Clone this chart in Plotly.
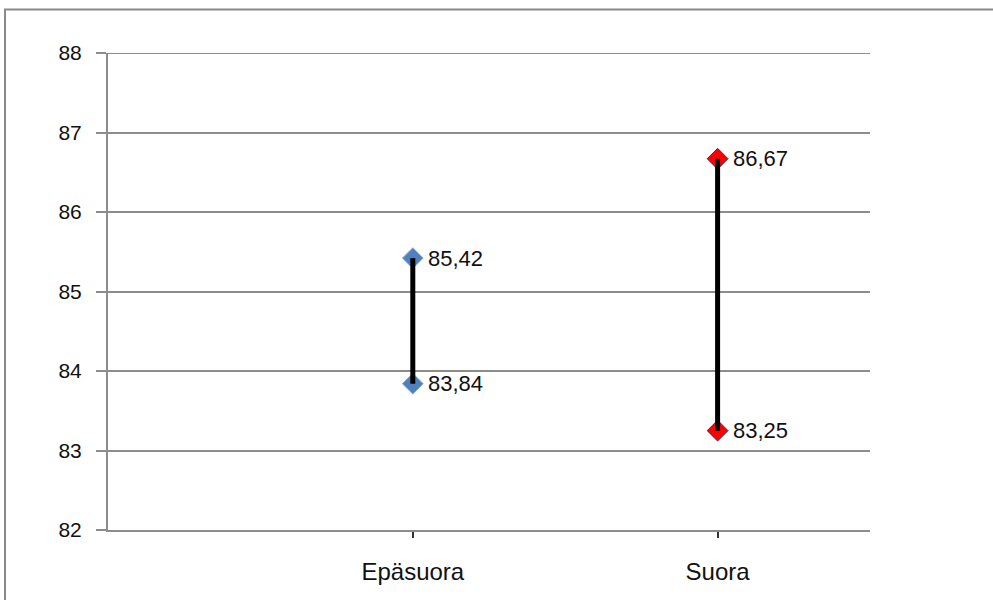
import plotly.graph_objects as go

categories = ["Epäsuora", "Suora"]
low_values = [83.84, 83.25]
high_values = [85.42, 86.67]
marker_colors = ["#4F81BD", "#FF0000"]
marker_edges = ["#8AAEDB", "#2E2E6E"]
y_ticks = [82, 83, 84, 85, 86, 87, 88]

W, H = 993, 600
L, R, T, B = 108, 123, 53, 70
PW, PH = W - L - R, H - T - B

TEXT = "#111111"
GRID = "#8c8c8c"
FONT = "Liberation Sans"

fig = go.Figure()
for cat, lo, hi, col, edge in zip(categories, low_values, high_values, marker_colors, marker_edges):
    fig.add_trace(go.Scatter(
        x=[cat, cat], y=[lo, hi], mode="markers",
        marker=dict(symbol="diamond", size=16, color=col, line=dict(color=edge, width=1)),
        hoverinfo="skip"))
    fig.add_trace(go.Scatter(
        x=[cat, cat], y=[lo, hi], mode="lines",
        line=dict(color="black", width=5), hoverinfo="skip"))
    for v in (lo, hi):
        fig.add_annotation(x=cat, y=v, text=f"{v:.2f}".replace(".", ","),
                           showarrow=False, xanchor="left", yanchor="middle", xshift=13,
                           font=dict(family=FONT, size=22, color=TEXT))

# top gridline at the range maximum
fig.add_shape(type="line", xref="paper", yref="y", x0=0, x1=1,
              y0=max(y_ticks), y1=max(y_ticks),
              line=dict(color=GRID, width=2), layer="below")

# outer chart border (extends past right and bottom edge)
fig.add_shape(type="rect", xref="paper", yref="paper",
              x0=(5 - L) / PW, x1=(W + 20 - L) / PW,
              y0=-(20 + B) / PH, y1=1 + (T - 9.5) / PH,
              line=dict(color="#8a8a8a", width=2), fillcolor="rgba(0,0,0,0)", layer="below")

fig.update_layout(
    width=W, height=H,
    margin=dict(l=L, r=R, t=T, b=B),
    paper_bgcolor="white", plot_bgcolor="white",
    showlegend=False,
    xaxis=dict(type="category", categoryorder="array", categoryarray=categories,
               range=[-1, 1.5], showgrid=False, zeroline=False,
               showline=True, linecolor=GRID, linewidth=2,
               ticks="outside", ticklen=6, tickwidth=1.5, tickcolor="#333333",
               ticklabelstandoff=13,
               tickfont=dict(family=FONT, size=24, color=TEXT)),
    yaxis=dict(range=[82, 88], tickvals=y_ticks, ticktext=[str(t) for t in y_ticks],
               showgrid=True, gridcolor=GRID, gridwidth=1.5, zeroline=False,
               showline=True, linecolor=GRID, linewidth=2,
               ticks="outside", ticklen=10, tickwidth=1.5, tickcolor=GRID,
               ticklabelstandoff=10,
               tickfont=dict(family=FONT, size=21, color=TEXT)),
)

fig.write_html("out.html")
